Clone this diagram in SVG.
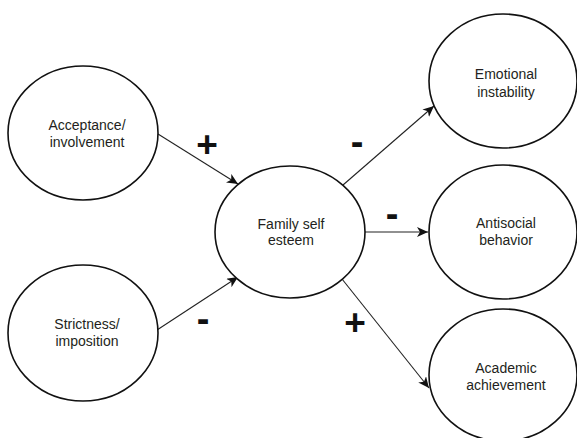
<svg xmlns="http://www.w3.org/2000/svg" width="577" height="438" viewBox="0 0 577 438">
<defs>
<style>
.node{fill:#fff;stroke:#111;stroke-width:1.6}
.lbl{font-family:"Liberation Sans",Arial,sans-serif;font-size:14px;fill:#231f20;text-anchor:middle}
.conn{stroke:#222;stroke-width:1.1;fill:none;marker-end:url(#ah)}
.sign{font-family:"Liberation Sans",Arial,sans-serif;fill:#111;text-anchor:middle;font-weight:bold}
.plus{font-size:37px}
.minus{font-size:38px}
</style>
<marker id="ah" markerWidth="12" markerHeight="10" refX="11" refY="5" orient="auto" markerUnits="userSpaceOnUse">
<path d="M0,0 L11,5 L0,10 L3,5 Z" fill="#111"/>
</marker>
</defs>
<rect width="577" height="438" fill="#fff"/>
<g id="connectors">
<line class="conn" x1="158" y1="134" x2="238" y2="184"/>
<line class="conn" x1="157" y1="330" x2="238" y2="277"/>
<line class="conn" x1="343" y1="185" x2="434" y2="106"/>
<line class="conn" x1="364" y1="232" x2="428" y2="232"/>
<line class="conn" x1="342" y1="279" x2="429" y2="388"/>
</g>
<g id="signs">
<text class="sign plus" x="207" y="157">+</text>
<text class="sign minus" x="203" y="332">-</text>
<text class="sign minus" x="357" y="155">-</text>
<text class="sign minus" x="392" y="227">-</text>
<text class="sign plus" x="355" y="335">+</text>
</g>
<g id="acceptance">
<ellipse class="node" cx="83" cy="133" rx="75" ry="67"/>
<text class="lbl" x="87" y="130">Acceptance/</text>
<text class="lbl" x="87" y="147">involvement</text>
</g>
<g id="strictness">
<ellipse class="node" cx="83" cy="333" rx="75" ry="68"/>
<text class="lbl" x="87" y="329">Strictness/</text>
<text class="lbl" x="87" y="346">imposition</text>
</g>
<g id="family">
<ellipse class="node" cx="290" cy="232" rx="75" ry="66"/>
<text class="lbl" x="291" y="229">Family self</text>
<text class="lbl" x="291" y="245">esteem</text>
</g>
<g id="emotional">
<ellipse class="node" cx="503" cy="81" rx="74" ry="67"/>
<text class="lbl" x="506" y="79">Emotional</text>
<text class="lbl" x="506" y="97">instability</text>
</g>
<g id="antisocial">
<ellipse class="node" cx="503" cy="232" rx="74" ry="67"/>
<text class="lbl" x="506" y="228">Antisocial</text>
<text class="lbl" x="506" y="245">behavior</text>
</g>
<g id="academic">
<ellipse class="node" cx="503" cy="375" rx="74" ry="66"/>
<text class="lbl" x="506" y="373">Academic</text>
<text class="lbl" x="506" y="390">achievement</text>
</g>
</svg>
